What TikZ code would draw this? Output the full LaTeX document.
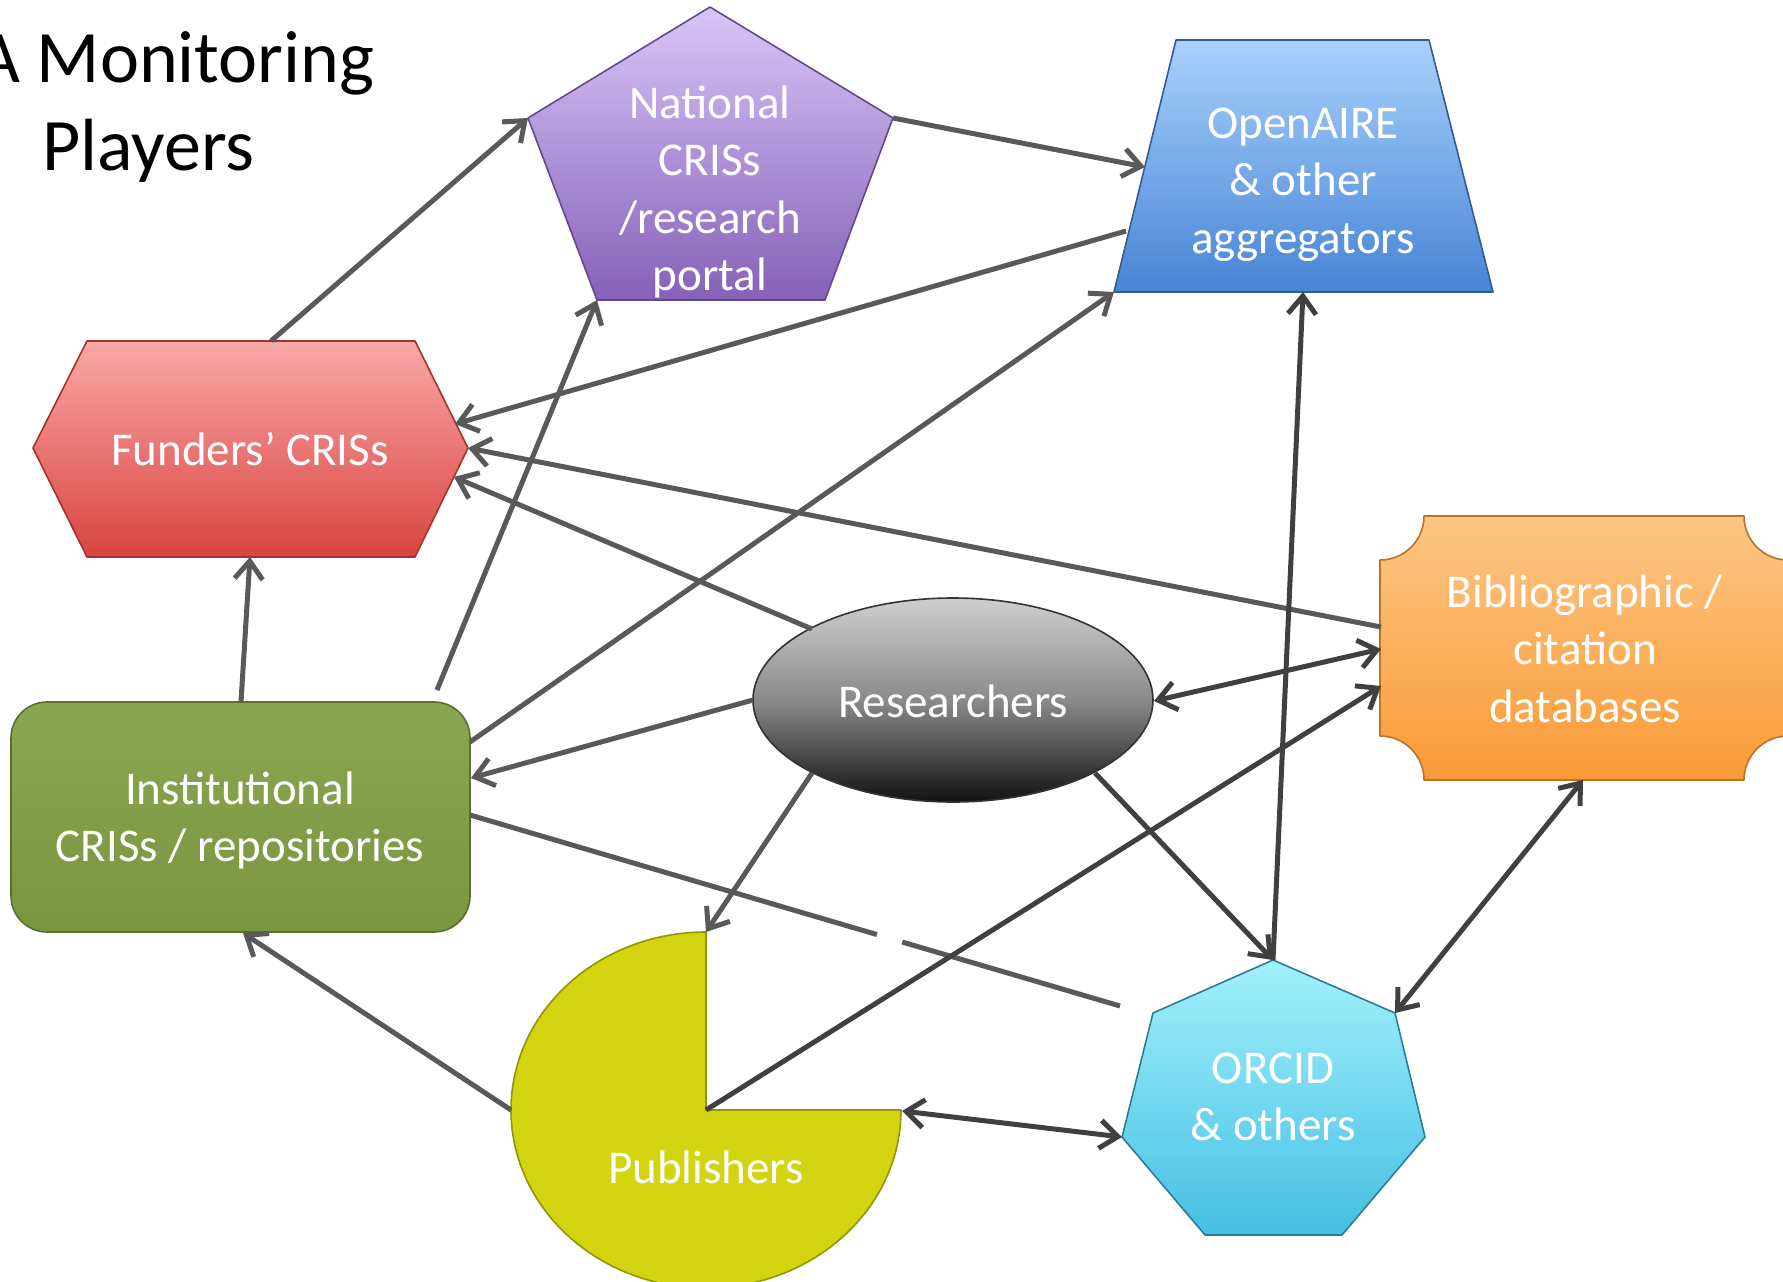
\documentclass[tikz,border=0pt]{standalone}
\usepackage{fontspec}
\setmainfont{Carlito}
\usetikzlibrary{arrows.meta,calc}

% fills (top / bottom of each gradient) and outlines
\definecolor{natTop}{HTML}{D8C5F8}
\definecolor{natBot}{HTML}{8661B8}
\definecolor{oaTop}{HTML}{A9D1FC}
\definecolor{oaBot}{HTML}{4784D5}
\definecolor{funTop}{HTML}{FAA8A8}
\definecolor{funBot}{HTML}{D9443F}
\definecolor{instFill}{HTML}{7F9E42}
\definecolor{resTop}{HTML}{CFCFCF}
\definecolor{resMid}{HTML}{8A8A8A}
\definecolor{resBot}{HTML}{121212}
\definecolor{bibTop}{HTML}{FDC684}
\definecolor{bibBot}{HTML}{F99A36}
\definecolor{pubFill}{HTML}{D2D40F}
\definecolor{orcTop}{HTML}{A2F1FC}
\definecolor{orcBot}{HTML}{45BFE3}
\definecolor{linkLight}{HTML}{595959}
\definecolor{linkDark}{HTML}{404040}

\tikzset{
  player/.style={line width=1.6pt, line join=round},
  label/.style={text=white, align=center, inner sep=0pt,
    font=\fontsize{47}{57.5}\selectfont},
  heading/.style={text=black, inner sep=0pt, anchor=base west,
    font=\fontsize{74}{88}\selectfont},
  link/.style={line width=5pt, color=linkLight},
  darklink/.style={link, color=linkDark},
  tip/.tip={Straight Barb[length=18pt, width=28pt]},
}

\begin{document}
\begin{tikzpicture}[x=1pt, y=-1pt]
\useasboundingbox (0,0) rectangle (1783,1282);
\clip (0,0) rectangle (1783,1282);

% ---------- title ----------
\node[heading] (title1) at (-23,82) {A Monitoring};
\node[heading] (title2) at (42,170) {Players};

% ---------- National CRISs (pentagon) ----------
\coordinate (nat-n)  at (710,7);
\coordinate (nat-w)  at (528,118);
\coordinate (nat-e)  at (893,118);
\coordinate (nat-se) at (825,300);
\coordinate (nat-sw) at (597,300);
\path[player, draw=natBot!75!black, top color=natTop, bottom color=natBot]
  (nat-n) -- (nat-e) -- (nat-se) -- (nat-sw) -- (nat-w) -- cycle;

% ---------- OpenAIRE (trapezoid) ----------
\coordinate (oa-nw) at (1176,40);
\coordinate (oa-ne) at (1429,40);
\coordinate (oa-se) at (1493,292);
\coordinate (oa-sw) at (1114,292);
\path[player, draw=oaBot!70!black, top color=oaTop, bottom color=oaBot]
  (oa-nw) -- (oa-ne) -- (oa-se) -- (oa-sw) -- cycle;

% ---------- Funders' CRISs (hexagon) ----------
\coordinate (fun-w)  at (33,448);
\coordinate (fun-nw) at (87,341);
\coordinate (fun-ne) at (415,341);
\coordinate (fun-e)  at (468,448);
\coordinate (fun-se) at (415,557);
\coordinate (fun-sw) at (87,557);
\path[player, draw=funBot!75!black, top color=funTop, bottom color=funBot]
  (fun-w) -- (fun-nw) -- (fun-ne) -- (fun-e) -- (fun-se) -- (fun-sw) -- cycle;

% ---------- Institutional CRISs (rounded box) ----------
\path[player, draw=instFill!70!black, top color=instFill!92!white, bottom color=instFill!95!black,
      rounded corners=36pt] (11,702) rectangle (470,932);

% ---------- Researchers (ellipse) ----------
\path[player, draw=black!80, top color=resTop, bottom color=resBot, middle color=resMid]
  (953,700) ellipse [x radius=200, y radius=102];

% ---------- Bibliographic databases (plaque) ----------
\path[player, draw=bibBot!75!black, top color=bibTop, bottom color=bibBot]
  (1424,516) -- (1744,516) arc[start angle=180, end angle=90, radius=44]
  -- (1788,736) arc[start angle=270, end angle=180, radius=44]
  -- (1424,780) arc[start angle=0, end angle=-90, radius=44]
  -- (1380,560) arc[start angle=90, end angle=0, radius=44] -- cycle;

% ---------- Publishers (pie with a missing quarter) ----------
\coordinate (pub-c) at (706,1110);
\path[player, draw=pubFill!70!black, fill=pubFill]
  (pub-c) -- ++(195,0) arc[start angle=0, end angle=270, x radius=195, y radius=178] -- cycle;

% ---------- ORCID (heptagon) ----------
\coordinate (orc-n)  at (1273,960);
\coordinate (orc-ne) at (1395,1013);
\coordinate (orc-e)  at (1425,1137);
\coordinate (orc-se) at (1342,1235);
\coordinate (orc-sw) at (1205,1235);
\coordinate (orc-w)  at (1122,1137);
\coordinate (orc-nw) at (1153,1013);
\path[player, draw=orcBot!65!black, top color=orcTop, bottom color=orcBot]
  (orc-n) -- (orc-ne) -- (orc-e) -- (orc-se) -- (orc-sw) -- (orc-w) -- (orc-nw) -- cycle;

% ---------- connection points ----------
\coordinate (fun-top) at (271,341);
\coordinate (fun-a)   at (455,424);
\coordinate (fun-b)   at (454,477);
\coordinate (fun-bot) at (250,557);
\coordinate (oa-l1)   at (1145,167);
\coordinate (oa-l2)   at (1126,231);
\coordinate (oa-s)    at (1303,292);
\coordinate (inst-n)  at (241,702);
\coordinate (inst-ne) at (437,690);
\coordinate (inst-e1) at (470,742);
\coordinate (inst-e2) at (471,778);
\coordinate (inst-e3) at (470,815);
\coordinate (inst-s)  at (243,933);
\coordinate (res-nw)  at (812,629);
\coordinate (res-w)   at (753,700);
\coordinate (res-e)   at (1154,701);
\coordinate (res-sw)  at (812,773);
\coordinate (res-se)  at (1095,773);
\coordinate (bib-w1)  at (1381,627);
\coordinate (bib-w2)  at (1381,649);
\coordinate (bib-w3)  at (1381,686);
\coordinate (bib-s)   at (1583,780);
\coordinate (pub-n)   at (706,932);
\coordinate (pub-e)   at (902,1111);
\coordinate (pub-w)   at (511,1110);
\coordinate (orc-end) at (1120,1006);
\coordinate (gap-a)   at ($(inst-e3)!0.626!(orc-end)$);
\coordinate (gap-b)   at ($(inst-e3)!0.665!(orc-end)$);

% ---------- connectors ----------
\draw[link, -tip] (fun-top) -- (nat-w);
\draw[link, -tip] (nat-e) -- (oa-l1);
\draw[link, -tip] (oa-l2) -- (fun-a);
\draw[link, -tip] (bib-w1) -- (fun-e);
\draw[link, -tip] (res-nw) -- (fun-b);
\draw[link, -tip] (inst-n) -- (fun-bot);
\draw[link, -tip] (inst-ne) -- (nat-sw);
\draw[link, -tip] (inst-e1) -- (oa-sw);
\draw[link, -tip] (res-w) -- (inst-e2);
\draw[link] (inst-e3) -- (gap-a) (gap-b) -- (orc-end);
\draw[link, -tip] (res-sw) -- (pub-n);
\draw[darklink, -tip] (res-se) -- (orc-n);
\draw[darklink, tip-tip] (res-e) -- (bib-w2);
\draw[darklink, -tip] (pub-c) -- (bib-w3);
\draw[darklink, -tip] (orc-n) -- (oa-s);
\draw[darklink, tip-tip] (bib-s) -- (orc-ne);
\draw[darklink, tip-tip] (pub-e) -- (orc-w);
\draw[link, -tip] (pub-w) -- (inst-s);

% ---------- labels ----------
\node[label] (nat)  at (710,192.75) {National\strut\\CRISs\strut\\/research\strut\\portal\strut};
\node[label] (oa)   at (1303,184) {OpenAIRE\strut\\\& other\strut\\aggregators\strut};
\node[label] (fun)  at (250,453.5) {Funders’ CRISs\strut};
\node[label] (inst) at (240,821.25) {Institutional\strut\\CRISs / repositories\strut};
\node[label] (res)  at (953,705.5) {Researchers\strut};
\node[label] (bib)  at (1585,653) {Bibliographic /\strut\\citation\strut\\databases\strut};
\node[label] (pub)  at (706,1171.5) {Publishers\strut};
\node[label] (orc)  at (1273,1100.25) {ORCID\strut\\\& others\strut};
\end{tikzpicture}
\end{document}
